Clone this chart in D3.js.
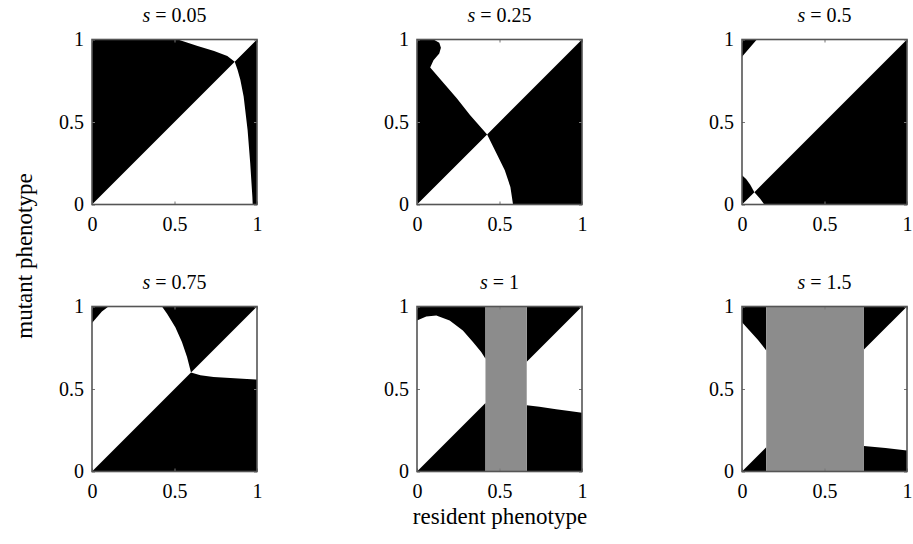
<!DOCTYPE html>
<html>
<head>
<meta charset="utf-8">
<script src="https://cdn.jsdelivr.net/npm/d3@7"></script>
<style>
  html, body { margin: 0; padding: 0; background: #fff; }
</style>
</head>
<body>
<svg id="chart" width="913" height="544"></svg>
<script>
const SERIF = '"Liberation Serif", "Times New Roman", Times, serif';

// Selection strength for each panel
const sValues = ["0.05", "0.25", "0.5", "0.75", "1", "1.5"];

// Axis ticks shared by every panel
const tickValues = [0, 0.5, 1];
const tickLabels = ["0", "0.5", "1"];

// Resident phenotypes with no viable equilibrium (grey band), per panel
const greyBands = [null, null, null, null, [0.415, 0.665], [0.147, 0.739]];

// Regions where the mutant can invade (drawn black), as [resident, mutant] outlines
const blackS005 = [
  [[0, 0], [0.865, 0.865], [0.82, 0.9], [0.74, 0.93], [0.64, 0.96], [0.58, 0.98], [0.52, 1], [0, 1]],
  [[0.865, 0.865], [1, 1], [1, 0], [0.974, 0], [0.972, 0.045], [0.959, 0.248], [0.943, 0.451],
   [0.919, 0.654], [0.899, 0.756], [0.882, 0.817]]
];
const blackS025 = [
  [[0, 0], [0.425, 0.425], [0.321, 0.543], [0.241, 0.644], [0.161, 0.736], [0.08, 0.83],
   [0.1, 0.875], [0.135, 0.915], [0.145, 0.95], [0.135, 0.98], [0.1, 1], [0, 1]],
  [[0.425, 0.425], [1, 1], [1, 0], [0.582, 0], [0.566, 0.106], [0.532, 0.207], [0.482, 0.309]]
];
const blackS05 = [
  [[0, 1], [0.09, 1], [0.06, 0.965], [0.03, 0.93], [0, 0.895]],
  [[0, 0], [0.075, 0.075], [0.05, 0.12], [0.025, 0.155], [0, 0.177]],
  [[0.075, 0.075], [1, 1], [1, 0], [0.135, 0], [0.11, 0.035]]
];
const blackS075 = [
  [[0, 1], [0.1, 1], [0.06, 0.97], [0.03, 0.935], [0, 0.9]],
  [[0.6, 0.6], [0.576, 0.694], [0.545, 0.785], [0.505, 0.875], [0.455, 0.956], [0.424, 1], [1, 1]],
  [[0, 0], [0.6, 0.6], [0.657, 0.584], [0.737, 0.573], [0.838, 0.567], [0.939, 0.561], [1, 0.557], [1, 0]]
];
const blackS1 = [
  [[0, 1], [0, 0.915], [0.056, 0.94], [0.117, 0.946], [0.198, 0.915], [0.278, 0.855],
   [0.339, 0.785], [0.389, 0.724], [0.415, 0.684], [0.415, 1]],
  [[0, 0], [0.415, 0.415], [0.415, 0]],
  [[0.665, 1], [0.665, 0.665], [1, 1]],
  [[0.665, 0], [0.665, 0.402], [0.742, 0.392], [0.843, 0.378], [0.923, 0.366], [1, 0.356], [1, 0]]
];
const blackS15 = [
  [[0, 1], [0, 0.905], [0.045, 0.855], [0.096, 0.799], [0.147, 0.734], [0.147, 1]],
  [[0, 0], [0.147, 0.147], [0.147, 0]],
  [[0.739, 1], [0.739, 0.739], [1, 1]],
  [[0.739, 0], [0.739, 0.155], [0.87, 0.142], [1, 0.127], [1, 0]]
];
const blackRegions = [blackS005, blackS025, blackS05, blackS075, blackS1, blackS15];

// Layout of the 2 x 3 grid
const colLeft = [92, 417, 742];
const rowTop = [39.5, 306.5];
const side = 165;

const svg = d3.select("#chart").attr("font-family", SERIF);

sValues.forEach((s, i) => {
  const col = i % 3, row = Math.floor(i / 3);
  const x0 = colLeft[col], y0 = rowTop[row];
  const x = d3.scaleLinear().domain([0, 1]).range([x0, x0 + side]);
  const y = d3.scaleLinear().domain([0, 1]).range([y0 + side, y0]);
  const g = svg.append("g");

  g.append("rect")
    .attr("x", x(0)).attr("y", y(1))
    .attr("width", x(1) - x(0)).attr("height", y(0) - y(1))
    .attr("fill", "#fff");

  const line = d3.line().x(d => x(d[0])).y(d => y(d[1]));
  g.selectAll("path.region")
    .data(blackRegions[i])
    .join("path")
    .attr("class", "region")
    .attr("d", d => line(d) + "Z")
    .attr("fill", "#000");

  const band = greyBands[i];
  if (band) {
    g.append("rect")
      .attr("x", x(band[0])).attr("y", y(1))
      .attr("width", x(band[1]) - x(band[0])).attr("height", y(0) - y(1))
      .attr("fill", "#8c8c8c");
  }

  // Axes with short inward ticks
  const fmt = (d) => tickLabels[tickValues.indexOf(d)];
  const axB = g.append("g").attr("transform", `translate(0,${y(0)})`)
    .call(d3.axisBottom(x).tickValues(tickValues).tickFormat(fmt).tickSizeInner(-3).tickSizeOuter(0).tickPadding(12));
  const axL = g.append("g").attr("transform", `translate(${x(0)},0)`)
    .call(d3.axisLeft(y).tickValues(tickValues).tickFormat(fmt).tickSizeInner(-3).tickSizeOuter(0).tickPadding(8));
  const axT = g.append("g").attr("transform", `translate(0,${y(1)})`)
    .call(d3.axisTop(x).tickValues(tickValues).tickFormat("").tickSizeInner(-3).tickSizeOuter(0));
  const axR = g.append("g").attr("transform", `translate(${x(1)},0)`)
    .call(d3.axisRight(y).tickValues(tickValues).tickFormat("").tickSizeInner(-3).tickSizeOuter(0));
  [axB, axL, axT, axR].forEach(a => {
    a.attr("font-family", SERIF).attr("font-size", 20);
    a.select(".domain").remove();
    a.selectAll("line").attr("stroke", "#777");
    a.selectAll("text").attr("fill", "#000");
  });

  g.append("rect")
    .attr("x", x(0)).attr("y", y(1))
    .attr("width", x(1) - x(0)).attr("height", y(0) - y(1))
    .attr("fill", "none").attr("stroke", "#555").attr("stroke-width", 1.6);

  const title = g.append("text")
    .attr("x", (x(0) + x(1)) / 2).attr("y", y(1) - 18)
    .attr("text-anchor", "middle").attr("font-size", 20);
  title.append("tspan").attr("font-style", "italic").text("s");
  title.append("tspan").text(" = " + s);
});

svg.append("text")
  .attr("x", 500).attr("y", 524)
  .attr("text-anchor", "middle").attr("font-size", 23)
  .text("resident phenotype");

svg.append("text")
  .attr("transform", "translate(32,256) rotate(-90)")
  .attr("text-anchor", "middle").attr("font-size", 23)
  .text("mutant phenotype");
</script>
</body>
</html>
